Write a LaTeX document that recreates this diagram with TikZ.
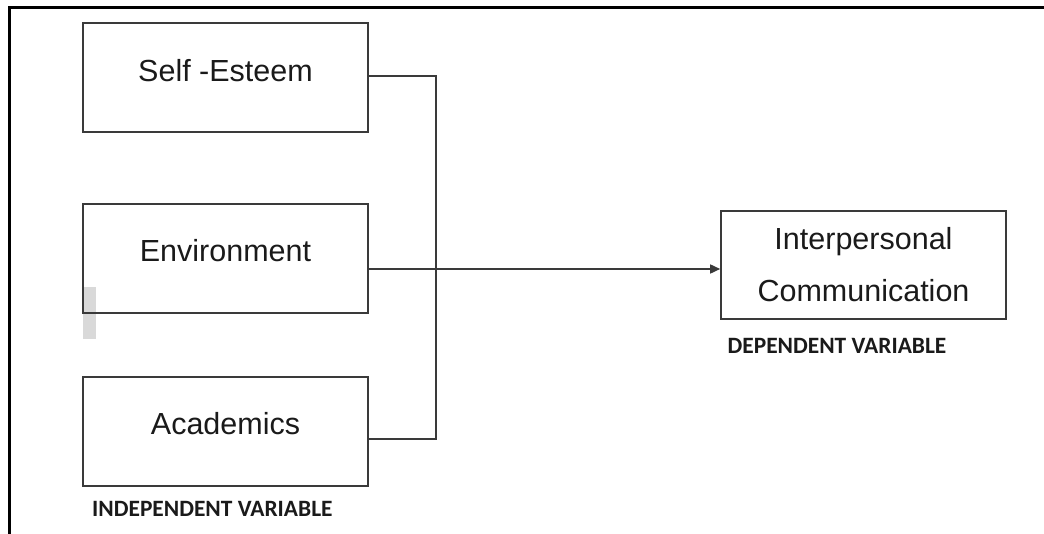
\documentclass[tikz,border=0pt]{standalone}
\usepackage{fontspec}
\setmainfont{Liberation Sans}
\newfontfamily\lblfont{Carlito}
\usetikzlibrary{arrows.meta}
\definecolor{edge}{HTML}{3A3A3A}
\definecolor{ink}{HTML}{1A1A1A}
\tikzset{
  varbox/.style={draw=edge, line width=1.6pt, minimum width=285pt, minimum height=109pt, inner sep=0pt},
  boxtext/.style={text=ink, inner sep=0pt, font=\fontsize{30.5}{36}\selectfont},
  vartag/.style={text=ink, inner sep=0pt, font=\lblfont\bfseries\fontsize{23.4}{26}\selectfont},
  conn/.style={draw=edge, line width=1.6pt},
  frame/.style={draw=black, line width=2.5pt},
}
\begin{document}
\begin{tikzpicture}[x=1pt,y=-1pt]
\useasboundingbox (0,0) rectangle (1044,534);
% outer frame
\draw[frame] (9.5,534) -- (9.5,7.5) -- (1044,7.5);
% grey mark
\fill[gray!30] (83,287) rectangle (96,339);
% boxes
\node[varbox] (se)  at (225.5,77.5) {};
\node[varbox] (env) at (225.5,258.5) {};
\node[varbox] (ac)  at (225.5,431.5) {};
\node[varbox, minimum height=108pt] (ip) at (863.5,265) {};
\node[boxtext] (set) at ([yshift=7pt]se.center) {Self -Esteem};
\node[boxtext] (envt) at ([yshift=8pt]env.center) {Environment};
\node[boxtext] (act) at ([yshift=8pt]ac.center) {Academics};
\node[boxtext, align=center, font=\fontsize{30.5}{52}\selectfont] (ipt) at (ip.center) {Interpersonal\\Communication};
% tags
\node[vartag, anchor=west] (ind) at (92,509) {INDEPENDENT VARIABLE};
\node[vartag] (dep) at (837,346) {DEPENDENT VARIABLE};
% connectors
\coordinate (bt) at (436,76);
\coordinate (bb) at (436,439);
\coordinate (ej) at (436,269);
\draw[conn] (se.east |- bt) -- (bt) -- (bb) -- (ac.east |- bb);
\draw[conn, -{Triangle[length=10pt,width=9pt]}] (env.east |- ej) -- (ip.west |- ej);
\end{tikzpicture}
\end{document}
